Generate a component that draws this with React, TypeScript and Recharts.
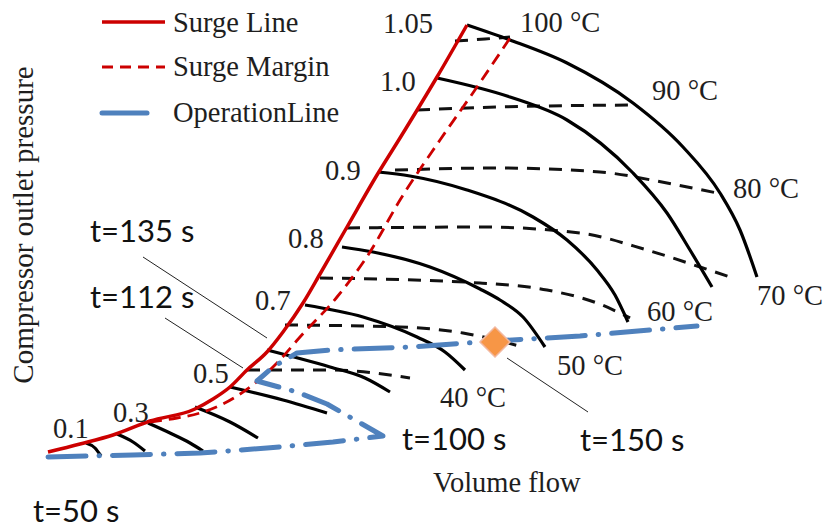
import React from 'react';
import { ComposedChart, Line, XAxis, YAxis, Scatter, ReferenceLine, Legend } from 'recharts';

type P = { x: number; y: number };
const toPts = (a: number[][]): P[] => a.map(([x, y]) => ({ x, y }));

// Surge line / surge margin / operation line (flow, pressure in chart units)
const surgeLine = toPts([[48,77],[80,85],[113,94],[150,108],[195,120],[213,130],[230,142],[247,159],[267,177],[283,197],[303,226],[320,255],[347,302],[377,354],[400,391],[437,452],[467,504]]);
const surgeMargin = toPts([[150,107],[177,111],[200,116],[223,125],[250,142],[277,166],[300,192],[337,232],[370,277],[400,329],[440,389],[477,442],[510,491]]);
const operationLine = toPts([[48,72],[133,74],[200,76],[267,81],[333,87],[383,93],[355,109],[327,125],[297,137],[257,148],[273,162],[297,176],[330,179],[410,182],[495,188],[580,193],[697,203]]);

// Speed lines
const speed105 = toPts([[467,504],[510,489],[567,466],[633,426],[683,382],[720,336],[740,299],[757,252]]);
const speed100 = toPts([[437,451],[510,432],[567,409],[633,356],[667,316],[690,279],[712,242]]);
const speed090 = toPts([[378,357],[410,353],[467,339],[533,312],[567,289],[597,259],[615,234],[628,207]]);
const speed080 = toPts([[342,282],[373,277],[430,262],[480,240],[500,229],[523,212],[545,182]]);
const speed070 = toPts([[305,224],[363,212],[417,192],[445,177],[465,159]]);
const speed060 = toPts([[267,179],[330,162],[365,151],[390,137]]);
const speed050 = toPts([[230,142],[283,129],[327,116]]);
const speed040 = toPts([[195,122],[230,107],[258,91]]);
const speed030 = toPts([[148,106],[170,96],[190,86],[203,78]]);
const speed020 = toPts([[117,95],[133,87],[145,78]]);
const speed010 = toPts([[86,86],[95,81],[101,73]]);
const speedLines = [speed105, speed100, speed090, speed080, speed070, speed060, speed050, speed040, speed030, speed020, speed010];

// Temperature lines
const temp100 = toPts([[455,488],[485,490],[510,492]]);
const temp90 = toPts([[417,419],[500,422],[633,424]]);
const temp80 = toPts([[395,359],[500,361],[600,357],[667,346],[717,336]]);
const temp70 = toPts([[347,301],[480,302],[580,296],[647,279],[700,262],[730,252]]);
const temp60 = toPts([[320,251],[480,246],[547,239],[597,226],[630,211]]);
const temp50 = toPts([[285,204],[400,202],[463,196],[500,188],[523,182]]);
const temp40 = toPts([[247,159],[330,159],[410,151]]);
const tempLines = [temp100, temp90, temp80, temp70, temp60, temp50, temp40];

// Labels
const speedLabels = [
  { x: 383, y: 496, text: '1.05' },
  { x: 380, y: 438, text: '1.0' },
  { x: 325, y: 349, text: '0.9' },
  { x: 288, y: 281, text: '0.8' },
  { x: 255, y: 219, text: '0.7' },
  { x: 193, y: 146, text: '0.5' },
  { x: 113, y: 107, text: '0.3' },
  { x: 53, y: 91, text: '0.1' },
];
const tempLabels = [
  { x: 520, y: 497, text: '100 °C' },
  { x: 652, y: 429, text: '90 °C' },
  { x: 733, y: 331, text: '80 °C' },
  { x: 757, y: 224, text: '70 °C' },
  { x: 647, y: 208, text: '60 °C' },
  { x: 557, y: 154, text: '50 °C' },
  { x: 440, y: 122, text: '40 °C' },
];
const timeLabels = [
  { x: 90, y: 287, text: 't=135 s' },
  { x: 90, y: 221, text: 't=112 s' },
  { x: 402, y: 79, text: 't=100 s' },
  { x: 580, y: 78, text: 't=150 s' },
  { x: 33, y: 7, text: 't=50 s' },
];
const xTitle = [{ x: 433, y: 37, text: 'Volume flow' }];
const yTitle = [{ x: 33, y: 304, text: 'Compressor outlet pressure' }];
const markerPoint = [{ x: 495, y: 187 }];
const leaders = [
  [{ x: 143, y: 272 }, { x: 267, y: 191 }],
  [{ x: 165, y: 211 }, { x: 243, y: 161 }],
  [{ x: 507, y: 171 }, { x: 588, y: 117 }],
];

const SERIF = '"Liberation Serif", "Times New Roman", serif';
const SANS = 'Lato, "Open Sans", sans-serif';
const RED = '#CC0000';
const BLUE = '#4F81BD';
const INK = '#1e1e1e';

const makeText = (family: string, size: number, color: string, rotate = false, anchor: 'start' | 'middle' = 'start') =>
  (props: any) => {
    const { cx, cy, payload } = props;
    if (cx == null || cy == null) return <g />;
    return (
      <text
        x={cx}
        y={cy}
        fontFamily={family}
        fontSize={size}
        fill={color}
        textAnchor={anchor}
        transform={rotate ? `rotate(-90, ${cx}, ${cy})` : undefined}
      >
        {payload.text}
      </text>
    );
  };

const diamondShape = (props: any) => {
  const { cx, cy } = props;
  if (cx == null || cy == null) return <g />;
  const r = 15;
  return (
    <polygon
      points={`${cx},${cy - r} ${cx + r},${cy} ${cx},${cy + r} ${cx - r},${cy}`}
      fill="#F79646"
      stroke="#F2B8A0"
      strokeWidth={1.5}
    />
  );
};

const legendItems = [
  { text: 'Surge Line', color: RED, dash: undefined as string | undefined, width: 3.5, x2: 165, y: 22, ty: 32 },
  { text: 'Surge Margin', color: RED, dash: '11 7', width: 3, x2: 165, y: 67, ty: 76 },
  { text: 'OperationLine', color: BLUE, dash: undefined, width: 5, x2: 147, y: 113, ty: 122 },
];

const LegendContent = () => (
  <svg width={360} height={135} style={{ display: 'block' }}>
    {legendItems.map((it) => (
      <g key={it.text}>
        <line x1={102} x2={it.x2} y1={it.y} y2={it.y} stroke={it.color} strokeWidth={it.width} strokeDasharray={it.dash} strokeLinecap={it.color === BLUE ? 'round' : 'butt'} />
        <text x={173} y={it.ty} fontFamily={SERIF} fontSize={28.5} fill={INK}>{it.text}</text>
      </g>
    ))}
  </svg>
);

export default function App() {
  return (
    <div style={{ position: 'absolute', left: 0, top: 0, width: 828, height: 529, background: '#fff' }}>
      <ComposedChart width={828} height={529} margin={{ top: 0, right: 0, bottom: 0, left: 0 }}>
        <XAxis type="number" dataKey="x" domain={[0, 828]} hide allowDataOverflow />
        <YAxis type="number" dataKey="y" domain={[0, 529]} hide allowDataOverflow />
        <Legend
          layout="vertical"
          align="center"
          verticalAlign="middle"
          wrapperStyle={{ left: 0, top: 0, width: 360, height: 135 }}
          content={() => <LegendContent />}
        />
        {tempLines.map((d, i) => (
          <Line key={'t' + i} data={d} dataKey="y" type="monotone" stroke="#111" strokeWidth={3} strokeDasharray="13 9" dot={false} activeDot={false} isAnimationActive={false} legendType="none" />
        ))}
        {speedLines.map((d, i) => (
          <Line key={'s' + i} data={d} dataKey="y" type="monotone" stroke="#000" strokeWidth={3.2} dot={false} activeDot={false} isAnimationActive={false} legendType="none" />
        ))}
        <Line data={surgeMargin} dataKey="y" type="monotone" stroke={RED} strokeWidth={2.8} strokeDasharray="12 7" dot={false} activeDot={false} isAnimationActive={false} />
        <Line data={surgeLine} dataKey="y" type="monotone" stroke={RED} strokeWidth={3.5} dot={false} activeDot={false} isAnimationActive={false} />
        <Line data={operationLine} dataKey="y" type="linear" stroke={BLUE} strokeWidth={5} strokeDasharray="38 13 0.5 13" strokeLinecap="round" strokeLinejoin="round" dot={false} activeDot={false} isAnimationActive={false} />
        {leaders.map((seg, i) => (
          <ReferenceLine key={'l' + i} segment={seg} stroke="#222" strokeWidth={1} />
        ))}
        <Scatter data={markerPoint} dataKey="y" shape={diamondShape} isAnimationActive={false} />
        <Scatter data={speedLabels} dataKey="y" shape={makeText(SERIF, 28.5, INK)} isAnimationActive={false} />
        <Scatter data={tempLabels} dataKey="y" shape={makeText(SERIF, 28.5, INK)} isAnimationActive={false} />
        <Scatter data={timeLabels} dataKey="y" shape={makeText(SANS, 31, '#111')} isAnimationActive={false} />
        <Scatter data={xTitle} dataKey="y" shape={makeText(SERIF, 28.5, INK)} isAnimationActive={false} />
        <Scatter data={yTitle} dataKey="y" shape={makeText(SERIF, 29, INK, true, 'middle')} isAnimationActive={false} />
      </ComposedChart>
    </div>
  );
}
